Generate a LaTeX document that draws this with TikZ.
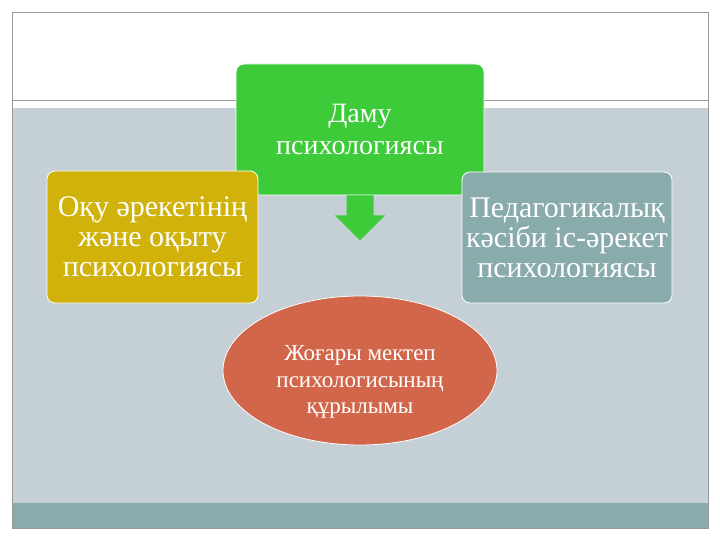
\documentclass[tikz,border=0pt]{standalone}
\usepackage{fontspec}
\setmainfont{Liberation Serif}
\usetikzlibrary{shapes.geometric}
\definecolor{bgray}{HTML}{C4CFD6}
\definecolor{teal}{HTML}{8AABAB}
\definecolor{grn}{HTML}{3DCB3A}
\definecolor{ylw}{HTML}{D0B20A}
\definecolor{red}{HTML}{D2664A}
\tikzset{box/.style={rounded corners=8pt,draw=white,line width=0.8pt,text=white,align=center,inner sep=0pt}}
\begin{document}
\begin{tikzpicture}[x=1pt,y=-1pt]
\useasboundingbox (0,0) rectangle (720,540);
\fill[white] (0,0) rectangle (720,540);
\fill[bgray] (12,108) rectangle (708,503);
\fill[teal] (12,503) rectangle (708,528);
\draw[gray!80] (12,12) -- (12,528) -- (708,528) -- (708,12) -- cycle;
\draw[gray!80] (12,100) -- (708,100);
\node[box,fill=grn,minimum width=248pt,minimum height=131pt,font=\fontsize{28}{32}\selectfont] (g) at (360,129.5) {Даму\\психологиясы};
\node[box,fill=ylw,minimum width=211pt,minimum height=132pt,font=\fontsize{30}{30}\selectfont] (y) at (152.5,237) {Оқу әрекетінің\\және оқыту\\психологиясы};
\node[box,fill=teal,minimum width=210pt,minimum height=131pt,font=\fontsize{30}{30}\selectfont] (t) at (567,237.5) {Педагогикалық\\кәсіби іс-әрекет\\психологиясы};
\node[ellipse,fill=red,draw=white,line width=0.8pt,minimum width=274pt,minimum height=149pt,inner sep=0pt] (e) at (360,370.5) {};
\node[text=white,align=center,inner sep=0pt,font=\fontsize{23}{26.5}\selectfont] (et) at (360,382) {Жоғары мектеп\\психологисының\\құрылымы};
\coordinate (a) at (g.south);
\fill[grn] ([xshift=-13.5pt]a) -- ([xshift=-13.5pt,yshift=-20pt]a) -- ([xshift=-25pt,yshift=-20pt]a) -- ([yshift=-45pt]a) -- ([xshift=25pt,yshift=-20pt]a) -- ([xshift=13.5pt,yshift=-20pt]a) -- ([xshift=13.5pt]a) -- cycle;
\end{tikzpicture}
\end{document}
